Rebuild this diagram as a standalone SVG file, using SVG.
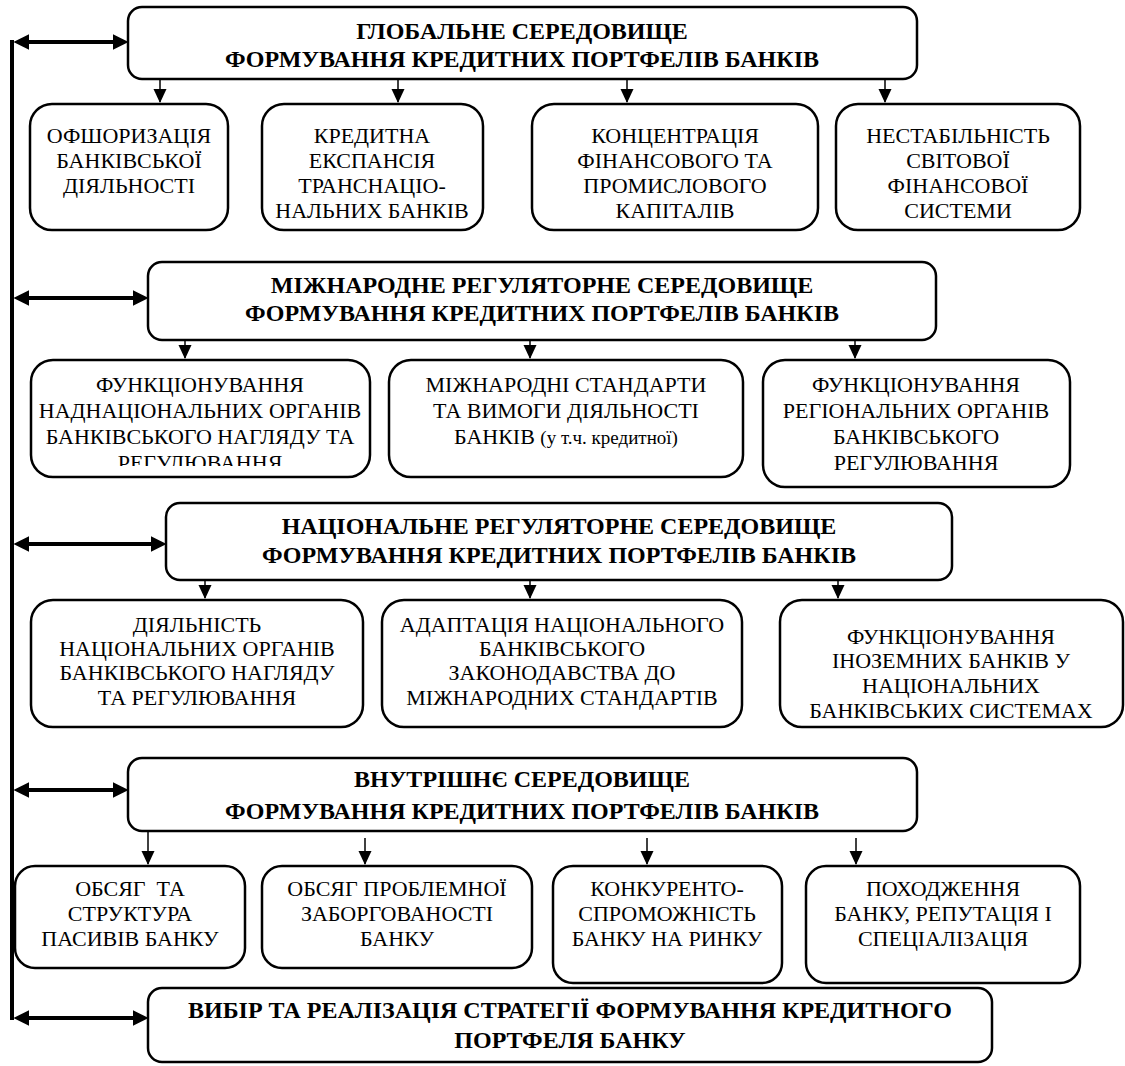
<svg xmlns="http://www.w3.org/2000/svg" width="1125" height="1066" viewBox="0 0 1125 1066">
<style>
.hd{fill:#fff;stroke:#000;stroke-width:2.5}
.bx{fill:#fff;stroke:#000;stroke-width:2.5}
.ht{font-family:"Liberation Serif","Times New Roman",serif;font-weight:bold;font-size:24px;text-anchor:middle;fill:#000}
.t{font-family:"Liberation Serif","Times New Roman",serif;font-size:22px;text-anchor:middle;fill:#000}
.sm{font-size:19px}
.thick{stroke:#000;stroke-width:4;fill:none}
.thin{stroke:#000;stroke-width:1.5;fill:none}
</style>
<defs>
<marker id="dbl" markerUnits="userSpaceOnUse" markerWidth="16" markerHeight="16" refX="10" refY="7" orient="auto-start-reverse" viewBox="0 0 14 14">
<path d="M0,0 L14,7 L0,14 z" fill="#000"/>
</marker>
<marker id="ar" markerUnits="userSpaceOnUse" markerWidth="14" markerHeight="16" refX="13" refY="6.5" orient="auto" viewBox="0 0 14 13">
<path d="M0,0 L14,6.5 L0,13 z" fill="#000"/>
</marker>
<clipPath id="clipA2"><rect x="31" y="360" width="339" height="106"/></clipPath>
</defs>

<g id="connectors">
<line class="thick" x1="12" y1="40" x2="12" y2="1020"/>
<line class="thick" x1="18" y1="42" x2="124" y2="42" marker-start="url(#dbl)" marker-end="url(#dbl)"/>
<line class="thick" x1="18" y1="298" x2="144" y2="298" marker-start="url(#dbl)" marker-end="url(#dbl)"/>
<line class="thick" x1="18" y1="544" x2="162" y2="544" marker-start="url(#dbl)" marker-end="url(#dbl)"/>
<line class="thick" x1="18" y1="790" x2="124" y2="790" marker-start="url(#dbl)" marker-end="url(#dbl)"/>
<line class="thick" x1="18" y1="1018" x2="144" y2="1018" marker-start="url(#dbl)" marker-end="url(#dbl)"/>
<line class="thin" x1="160" y1="79" x2="160" y2="102" marker-end="url(#ar)"/>
<line class="thin" x1="398" y1="79" x2="398" y2="102" marker-end="url(#ar)"/>
<line class="thin" x1="627" y1="79" x2="627" y2="102" marker-end="url(#ar)"/>
<line class="thin" x1="885" y1="79" x2="885" y2="102" marker-end="url(#ar)"/>
<line class="thin" x1="185" y1="340" x2="185" y2="358" marker-end="url(#ar)"/>
<line class="thin" x1="530" y1="340" x2="530" y2="358" marker-end="url(#ar)"/>
<line class="thin" x1="855" y1="340" x2="855" y2="358" marker-end="url(#ar)"/>
<line class="thin" x1="205" y1="580" x2="205" y2="598" marker-end="url(#ar)"/>
<line class="thin" x1="530" y1="580" x2="530" y2="598" marker-end="url(#ar)"/>
<line class="thin" x1="838" y1="580" x2="838" y2="598" marker-end="url(#ar)"/>
<line class="thin" x1="148" y1="831" x2="148" y2="864" marker-end="url(#ar)"/>
<line class="thin" x1="365" y1="838" x2="365" y2="864" marker-end="url(#ar)"/>
<line class="thin" x1="647" y1="838" x2="647" y2="864" marker-end="url(#ar)"/>
<line class="thin" x1="856" y1="838" x2="856" y2="864" marker-end="url(#ar)"/>
</g>

<g id="global">
<rect class="hd" x="128" y="7" width="789" height="72" rx="14"/>
<text class="ht" x="522" y="39">ГЛОБАЛЬНЕ СЕРЕДОВИЩЕ</text>
<text class="ht" x="522" y="67">ФОРМУВАННЯ КРЕДИТНИХ ПОРТФЕЛІВ БАНКІВ</text>
</g>
<g id="offshore">
<rect class="bx" x="30" y="104" width="198" height="126" rx="22"/>
<text class="t" x="129" y="143">ОФШОРИЗАЦІЯ</text>
<text class="t" x="129" y="168">БАНКІВСЬКОЇ</text>
<text class="t" x="129" y="193">ДІЯЛЬНОСТІ</text>
</g>
<g id="expansion">
<rect class="bx" x="262" y="104" width="221" height="126" rx="22"/>
<text class="t" x="372" y="143">КРЕДИТНА</text>
<text class="t" x="372" y="168">ЕКСПАНСІЯ</text>
<text class="t" x="372" y="193">ТРАНСНАЦІО-</text>
<text class="t" x="372" y="218">НАЛЬНИХ БАНКІВ</text>
</g>
<g id="concentration">
<rect class="bx" x="532" y="104" width="286" height="126" rx="22"/>
<text class="t" x="675" y="143">КОНЦЕНТРАЦІЯ</text>
<text class="t" x="675" y="168">ФІНАНСОВОГО ТА</text>
<text class="t" x="675" y="193">ПРОМИСЛОВОГО</text>
<text class="t" x="675" y="218">КАПІТАЛІВ</text>
</g>
<g id="instability">
<rect class="bx" x="836" y="104" width="244" height="126" rx="22"/>
<text class="t" x="958" y="143">НЕСТАБІЛЬНІСТЬ</text>
<text class="t" x="958" y="168">СВІТОВОЇ</text>
<text class="t" x="958" y="193">ФІНАНСОВОЇ</text>
<text class="t" x="958" y="218">СИСТЕМИ</text>
</g>

<g id="intl">
<rect class="hd" x="148" y="262" width="788" height="78" rx="14"/>
<text class="ht" x="542" y="293">МІЖНАРОДНЕ РЕГУЛЯТОРНЕ СЕРЕДОВИЩЕ</text>
<text class="ht" x="542" y="321">ФОРМУВАННЯ КРЕДИТНИХ ПОРТФЕЛІВ БАНКІВ</text>
</g>
<g id="supranational">
<rect class="bx" x="31" y="360" width="339" height="117" rx="22"/>
<g clip-path="url(#clipA2)">
<text class="t" x="200" y="392">ФУНКЦІОНУВАННЯ</text>
<text class="t" x="200" y="418">НАДНАЦІОНАЛЬНИХ ОРГАНІВ</text>
<text class="t" x="200" y="444">БАНКІВСЬКОГО НАГЛЯДУ ТА</text>
<text class="t" x="200" y="470">РЕГУЛЮВАННЯ</text>
</g>
</g>
<g id="standards">
<rect class="bx" x="389" y="360" width="354" height="117" rx="22"/>
<text class="t" x="566" y="392">МІЖНАРОДНІ СТАНДАРТИ</text>
<text class="t" x="566" y="418">ТА ВИМОГИ ДІЯЛЬНОСТІ</text>
<text class="t" x="566" y="444">БАНКІВ <tspan class="sm">(у т.ч. кредитної)</tspan></text>
</g>
<g id="regional">
<rect class="bx" x="763" y="360" width="307" height="127" rx="22"/>
<text class="t" x="916" y="392">ФУНКЦІОНУВАННЯ</text>
<text class="t" x="916" y="418">РЕГІОНАЛЬНИХ ОРГАНІВ</text>
<text class="t" x="916" y="444">БАНКІВСЬКОГО</text>
<text class="t" x="916" y="470">РЕГУЛЮВАННЯ</text>
</g>

<g id="national">
<rect class="hd" x="166" y="503" width="786" height="77" rx="14"/>
<text class="ht" x="559" y="534">НАЦІОНАЛЬНЕ РЕГУЛЯТОРНЕ СЕРЕДОВИЩЕ</text>
<text class="ht" x="559" y="563">ФОРМУВАННЯ КРЕДИТНИХ ПОРТФЕЛІВ БАНКІВ</text>
</g>
<g id="natorgans">
<rect class="bx" x="31" y="600" width="332" height="127" rx="22"/>
<text class="t" x="197" y="632">ДІЯЛЬНІСТЬ</text>
<text class="t" x="197" y="656">НАЦІОНАЛЬНИХ ОРГАНІВ</text>
<text class="t" x="197" y="680">БАНКІВСЬКОГО НАГЛЯДУ</text>
<text class="t" x="197" y="705">ТА РЕГУЛЮВАННЯ</text>
</g>
<g id="adaptation">
<rect class="bx" x="382" y="600" width="360" height="127" rx="22"/>
<text class="t" x="562" y="632">АДАПТАЦІЯ НАЦІОНАЛЬНОГО</text>
<text class="t" x="562" y="656">БАНКІВСЬКОГО</text>
<text class="t" x="562" y="680">ЗАКОНОДАВСТВА ДО</text>
<text class="t" x="562" y="705">МІЖНАРОДНИХ СТАНДАРТІВ</text>
</g>
<g id="foreign">
<rect class="bx" x="780" y="600" width="343" height="127" rx="22"/>
<text class="t" x="951" y="644">ФУНКЦІОНУВАННЯ</text>
<text class="t" x="951" y="668">ІНОЗЕМНИХ БАНКІВ У</text>
<text class="t" x="951" y="693">НАЦІОНАЛЬНИХ</text>
<text class="t" x="951" y="718">БАНКІВСЬКИХ СИСТЕМАХ</text>
</g>

<g id="internal">
<rect class="hd" x="128" y="758" width="789" height="73" rx="14"/>
<text class="ht" x="522" y="787">ВНУТРІШНЄ СЕРЕДОВИЩЕ</text>
<text class="ht" x="522" y="819">ФОРМУВАННЯ КРЕДИТНИХ ПОРТФЕЛІВ БАНКІВ</text>
</g>
<g id="liabilities">
<rect class="bx" x="15" y="866" width="230" height="102" rx="20"/>
<text class="t" x="130" y="896" xml:space="preserve">ОБСЯГ  ТА</text>
<text class="t" x="130" y="921">СТРУКТУРА</text>
<text class="t" x="130" y="946">ПАСИВІВ БАНКУ</text>
</g>
<g id="problemdebt">
<rect class="bx" x="262" y="866" width="270" height="102" rx="20"/>
<text class="t" x="397" y="896">ОБСЯГ ПРОБЛЕМНОЇ</text>
<text class="t" x="397" y="921">ЗАБОРГОВАНОСТІ</text>
<text class="t" x="397" y="946">БАНКУ</text>
</g>
<g id="competitiveness">
<rect class="bx" x="553" y="866" width="229" height="117" rx="20"/>
<text class="t" x="667" y="896">КОНКУРЕНТО-</text>
<text class="t" x="667" y="921">СПРОМОЖНІСТЬ</text>
<text class="t" x="667" y="946">БАНКУ НА РИНКУ</text>
</g>
<g id="origin">
<rect class="bx" x="806" y="866" width="274" height="117" rx="20"/>
<text class="t" x="943" y="896">ПОХОДЖЕННЯ</text>
<text class="t" x="943" y="921">БАНКУ, РЕПУТАЦІЯ І</text>
<text class="t" x="943" y="946">СПЕЦІАЛІЗАЦІЯ</text>
</g>

<g id="strategy">
<rect class="hd" x="148" y="988" width="844" height="74" rx="14"/>
<text class="ht" x="570" y="1018">ВИБІР ТА РЕАЛІЗАЦІЯ СТРАТЕГІЇ ФОРМУВАННЯ КРЕДИТНОГО</text>
<text class="ht" x="570" y="1048">ПОРТФЕЛЯ БАНКУ</text>
</g>
</svg>
